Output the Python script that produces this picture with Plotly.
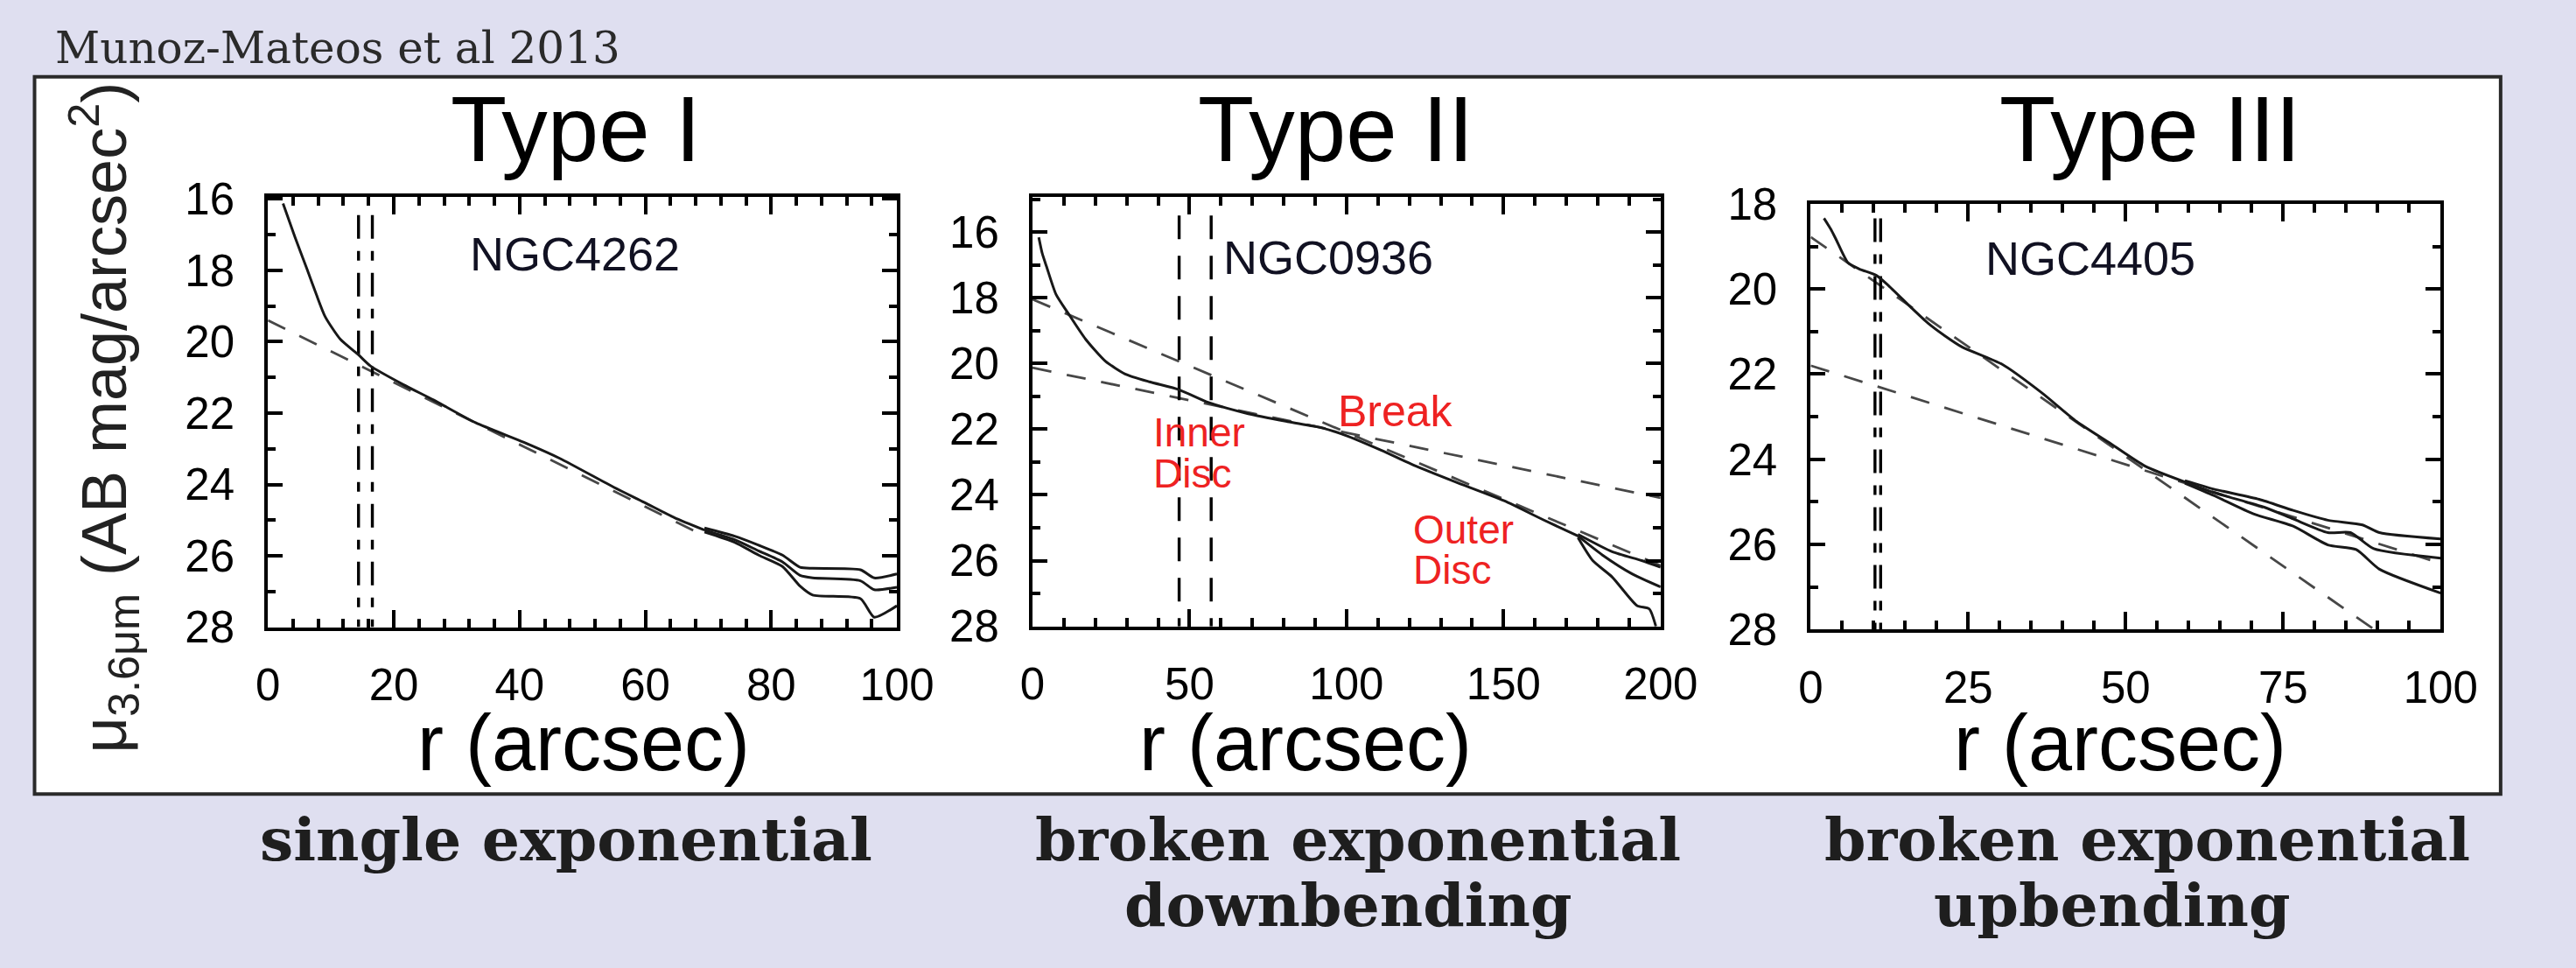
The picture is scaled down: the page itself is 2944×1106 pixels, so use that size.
import plotly.graph_objects as go

W, H = 2944, 1106

# ---------------- data ----------------
# Panel 1: Type I, NGC4262
r1_main = [2.4, 4.3, 6.2, 7.7, 9.1, 11.5, 14.4, 16.3, 21.5, 26.3, 33.0, 40.7, 46.4, 55.0, 59.8, 64.6, 69.4]
mu1_main = [16.13, 17.07, 17.96, 18.68, 19.30, 19.93, 20.37, 20.68, 21.20, 21.63, 22.27, 22.82, 23.27, 24.08, 24.50, 24.93, 25.28]
r1_branch = [69.4, 74.2, 78.0, 81.8, 84.6, 86.6, 94.2, 96.4, 100.0]
mu1_upper = [25.22, 25.45, 25.70, 25.98, 26.32, 26.35, 26.39, 26.62, 26.51]
mu1_mid = [25.28, 25.55, 25.86, 26.17, 26.55, 26.62, 26.70, 26.95, 26.88]
mu1_lower = [25.33, 25.62, 25.98, 26.30, 26.85, 27.10, 27.20, 27.72, 27.40]
fit1_r = [0, 68]
fit1_mu = [19.40, 25.32]
vline1_r = [14.4, 16.6]
vline1_top = 16.45

# Panel 2: Type II, NGC0936
r2_main = [2.0, 3.1, 4.4, 7.5, 11.4, 16.9, 23.2, 29.5, 37.3, 46.7, 56.1, 68.7, 81.2, 92.2, 100.0, 111.0, 122.0, 134.5, 150.2, 162.7, 173.7]
mu2_main = [16.16, 16.65, 17.03, 17.90, 18.48, 19.26, 19.93, 20.32, 20.56, 20.80, 21.19, 21.53, 21.77, 21.96, 22.20, 22.64, 23.12, 23.60, 24.18, 24.76, 25.25]
r2_upper = [173.7, 184.6, 194.0, 200.0]
mu2_upper = [25.20, 25.73, 26.00, 26.20]
r2_mid = [173.7, 181.5, 190.9, 200.0]
mu2_mid = [25.25, 25.83, 26.40, 26.80]
r2_lower = [173.7, 178.4, 184.6, 192.5, 196.4, 198.5]
mu2_lower = [25.30, 26.00, 26.50, 27.37, 27.47, 28.00]
fit2_outer_r = [0, 200]
fit2_outer_mu = [18.05, 26.15]
fit2_inner_r = [0, 200]
fit2_inner_mu = [20.13, 24.09]
vline2_r = [46.7, 56.9]
vline2_top = 15.5

# Panel 3: Type III, NGC4405
r3_main = [2.1, 3.2, 4.1, 5.9, 7.7, 10.4, 12.2, 15.9, 18.6, 21.3, 24.0, 30.4, 36.7, 42.2, 47.6, 53.1, 59.4]
mu3_main = [18.34, 18.60, 18.86, 19.38, 19.53, 19.68, 19.90, 20.43, 20.80, 21.10, 21.36, 21.77, 22.44, 23.11, 23.63, 24.16, 24.53]
r3_upper = [59.4, 64.0, 71.2, 76.6, 82.1, 87.6, 90.3, 100.0]
mu3_upper = [24.50, 24.70, 24.94, 25.20, 25.43, 25.54, 25.72, 25.87]
r3_mid = [59.4, 64.0, 72.1, 76.6, 82.1, 85.7, 89.4, 100.0]
mu3_mid = [24.53, 24.78, 25.13, 25.40, 25.72, 25.72, 26.10, 26.32]
r3_lower = [59.4, 64.0, 70.3, 76.6, 82.1, 86.6, 90.3, 100.0]
mu3_lower = [24.56, 24.85, 25.28, 25.57, 26.01, 26.12, 26.58, 27.14]
fit3_outer_r = [0, 100]
fit3_outer_mu = [21.80, 26.44]
fit3_inner_r = [0, 89.5]
fit3_inner_mu = [18.78, 28.00]
vline3_r = [10.2, 11.1]
vline3_top = 18.34

panel_titles = ["Type I", "Type II", "Type III"]
galaxy_names = ["NGC4262", "NGC0936", "NGC4405"]
captions = [["single exponential"], ["broken exponential", "downbending"], ["broken exponential", "upbending"]]

# ---------------- helpers ----------------
def px(x):
    return x / W

def py(y):
    return 1 - y / H

CURVE = "#181818"
FIT = "#474747"
SANS = "Liberation Sans, Arial, sans-serif"
SERIF = "DejaVu Serif, serif"

fig = go.Figure()

def add_panel(idx, fits, curves, vlines, vtop, vdash):
    xa = "x" if idx == 1 else f"x{idx}"
    ya = "y" if idx == 1 else f"y{idx}"
    for fr, fm in fits:
        fig.add_trace(go.Scatter(x=fr, y=fm, mode="lines", xaxis=xa, yaxis=ya,
                                 line=dict(color=FIT, width=2.8, dash="22px,18px"),
                                 showlegend=False, hoverinfo="skip"))
    for v in vlines:
        fig.add_trace(go.Scatter(x=[v, v], y=[vtop, 28], mode="lines", xaxis=xa, yaxis=ya,
                                 line=dict(color="black", width=3.4, dash=vdash),
                                 showlegend=False, hoverinfo="skip"))
    for cr, cm in curves:
        fig.add_trace(go.Scatter(x=cr, y=cm, mode="lines", xaxis=xa, yaxis=ya,
                                 line=dict(color=CURVE, width=3, shape="spline", smoothing=0.6),
                                 showlegend=False, hoverinfo="skip"))

add_panel(1,
          [(fit1_r, fit1_mu)],
          [(r1_main, mu1_main), (r1_branch, mu1_upper), (r1_branch, mu1_mid), (r1_branch, mu1_lower)],
          vline1_r, vline1_top, "27px,14px,11px,14px")
add_panel(2,
          [(fit2_outer_r, fit2_outer_mu), (fit2_inner_r, fit2_inner_mu)],
          [(r2_main, mu2_main), (r2_upper, mu2_upper), (r2_mid, mu2_mid), (r2_lower, mu2_lower)],
          vline2_r, vline2_top, "27px,19px")
add_panel(3,
          [(fit3_outer_r, fit3_outer_mu), (fit3_inner_r, fit3_inner_mu)],
          [(r3_main, mu3_main), (r3_upper, mu3_upper), (r3_mid, mu3_mid), (r3_lower, mu3_lower)],
          vline3_r, vline3_top, "27px,14px,11px,14px")

tickfont = dict(family=SANS, size=51, color="black")

def xaxis(dom, rng, dtick, mdtick, anchor):
    return dict(domain=[px(dom[0]), px(dom[1])], range=rng, anchor=anchor,
                tick0=0, dtick=dtick, ticks="inside", ticklen=20, tickwidth=4, tickcolor="black",
                minor=dict(dtick=mdtick, tick0=0, ticks="inside", ticklen=10, tickwidth=4, tickcolor="black"),
                showline=True, linewidth=4, linecolor="black", mirror="ticks",
                showgrid=False, zeroline=False, tickfont=tickfont, ticklabelstandoff=18)

def yaxis(dom, rng, anchor):
    return dict(domain=[py(dom[1]), py(dom[0])], range=rng, anchor=anchor,
                tick0=0, dtick=2, ticks="inside", ticklen=17, tickwidth=4, tickcolor="black",
                minor=dict(dtick=1, tick0=0, ticks="inside", ticklen=9, tickwidth=4, tickcolor="black"),
                showline=True, linewidth=4, linecolor="black", mirror="ticks",
                showgrid=False, zeroline=False, tickfont=tickfont, ticklabelstandoff=24)

annotations = []
# top-left reference
annotations.append(dict(x=px(48), y=py(28), xref="paper", yref="paper", xanchor="left", yanchor="middle",
                        text="Munoz-Mateos et al 2013", showarrow=False,
                        font=dict(family=SERIF, size=50, color="#2a2a2a")))
# panel titles
for t, cx in zip(panel_titles, [657, 1542, 2491]):
    annotations.append(dict(x=px(cx), y=py(126), xref="paper", yref="paper", xanchor="center", yanchor="middle",
                            text=t, showarrow=False, font=dict(family=SANS, size=105, color="black")))
# x axis titles
for cx in [666, 1507, 2457]:
    annotations.append(dict(x=px(cx), y=py(866), xref="paper", yref="paper", xanchor="center", yanchor="middle",
                            text="r (arcsec)", showarrow=False, font=dict(family=SANS, size=90, color="black")))
# y axis title
annotations.append(dict(x=px(106), y=py(473), xref="paper", yref="paper", xanchor="center", yanchor="middle",
                        text="μ<sub>3.6μm</sub> (AB mag/arcsec<sup>2</sup>)", textangle=-90, showarrow=False,
                        font=dict(family=SANS, size=72, color="#222222")))
# galaxy names
for name, (gx, gy), ax in zip(galaxy_names, [(48.8, 17.53), (94.3, 16.76), (44.4, 19.27)], ["", "2", "3"]):
    annotations.append(dict(x=gx, y=gy, xref="x" + ax, yref="y" + ax, xanchor="center", yanchor="middle",
                            text=name, showarrow=False, font=dict(family=SANS, size=54, color="#111122")))
# red labels in panel 2
red = "#ee2222"
annotations.append(dict(x=115.7, y=21.46, xref="x2", yref="y2", xanchor="center", yanchor="middle",
                        text="Break", showarrow=False, font=dict(family=SANS, size=50, color=red)))
for txt, lx, ly in [("Inner", 37.8, 22.10), ("Disc", 37.8, 23.36), ("Outer", 120.7, 25.04), ("Disc", 120.7, 26.29)]:
    annotations.append(dict(x=lx, y=ly, xref="x2", yref="y2", xanchor="left", yanchor="middle",
                            text=txt, showarrow=False, font=dict(family=SANS, size=46, color=red)))
# captions under the box
cap_pos = [[(645, 982)], [(1568, 982), (1557, 1061)], [(2488, 982), (2447, 1061)]]
for lines, poss in zip(captions, cap_pos):
    for txt, (cx, cy) in zip(lines, poss):
        annotations.append(dict(x=px(cx), y=py(cy), xref="paper", yref="paper", xanchor="center", yanchor="middle",
                                text=txt, showarrow=False,
                                font=dict(family=SERIF, size=68, color="#1e1e1e", weight="bold")))

fig.update_layout(
    width=W, height=H, autosize=False,
    margin=dict(l=0, r=0, t=0, b=0),
    paper_bgcolor="#dfdff0", plot_bgcolor="white",
    xaxis=xaxis((298, 1031), [0, 100], 20, 4, "y"),
    yaxis=yaxis((208, 726), [28, 15.95], "x"),
    xaxis2=xaxis((1189, 1921), [0, 200], 50, 10, "y2"),
    yaxis2=yaxis((208, 725), [28, 14.94], "x2"),
    xaxis3=xaxis((2096, 2830), [0, 100], 25, 5, "y3"),
    yaxis3=yaxis((216, 729), [28, 18], "x3"),
    annotations=annotations,
    shapes=[dict(type="rect", xref="paper", yref="paper", x0=px(26), x1=px(2900), y0=py(927), y1=py(63),
                 fillcolor="white", line=dict(color="#2a2a2a", width=4), layer="below")],
)

fig.write_html("out.html")
